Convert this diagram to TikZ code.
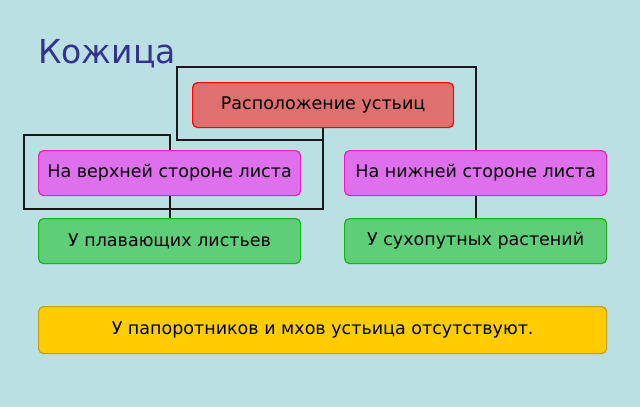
\documentclass[tikz,border=0pt]{standalone}
\usepackage{fontspec}
\setmainfont{DejaVu Sans}
\usetikzlibrary{backgrounds}
\begin{document}
\begin{tikzpicture}[x=1pt,y=-1pt,
 box/.style={draw,line width=1.2pt,rounded corners=5pt,anchor=north west,inner sep=0pt,font=\fontsize{17.5}{20}\selectfont},
 conn/.style={draw=black!90,line width=1.8pt}]
\definecolor{bg}{HTML}{BAE0E3}
\node[anchor=base west,inner sep=0pt,text=blue!45!black!80,font=\fontsize{33}{38}\selectfont] (title) at (38,63) {Кожица};
\node[box,fill={rgb,255:red,222;green,112;blue,112},draw=red,minimum width=261pt,minimum height=45pt] (top) at (192,82) {Расположение устьиц};
\node[box,fill={rgb,255:red,222;green,112;blue,238},draw={rgb,255:red,240;green,30;blue,190},minimum width=262pt,minimum height=45pt] (up) at (38,150) {На верхней стороне листа};
\node[box,fill={rgb,255:red,222;green,112;blue,238},draw={rgb,255:red,240;green,30;blue,190},minimum width=262pt,minimum height=45pt] (down) at (344,150) {На нижней стороне листа};
\node[box,fill={rgb,255:red,94;green,206;blue,120},draw={rgb,255:red,20;green,180;blue,30},minimum width=262pt,minimum height=45pt] (g1) at (38,218) {У плавающих листьев};
\node[box,fill={rgb,255:red,94;green,206;blue,120},draw={rgb,255:red,20;green,180;blue,30},minimum width=262pt,minimum height=45pt] (g2) at (344,218) {У сухопутных растений};
\node[box,fill={rgb,255:red,255;green,204;blue,0},draw={rgb,255:red,200;green,160;blue,20},minimum width=568pt,minimum height=47pt] (note) at (38,306) {У папоротников и мхов устьица отсутствуют.};
\begin{scope}[on background layer]
\fill[bg] (0,0) rectangle (640,407);
\coordinate (c1) at (top.south |- 0,140);
\coordinate (c2) at (177,140);
\coordinate (c3) at (177,67);
\coordinate (c4) at (down.north |- 0,67);
\coordinate (d1) at (top.south |- 0,209);
\coordinate (d2) at (24,209);
\coordinate (d3) at (24,135);
\coordinate (d4) at (up.north |- 0,135);
\path[conn] (top.south) -- (c1) -- (c2) -- (c3) -- (c4) -- (down.north);
\path[conn] (top.south) -- (d1) -- (d2) -- (d3) -- (d4) -- (up.north);
\path[conn] (up.south) -- (g1.north);
\path[conn] (down.south) -- (g2.north);
\end{scope}
\end{tikzpicture}
\end{document}
